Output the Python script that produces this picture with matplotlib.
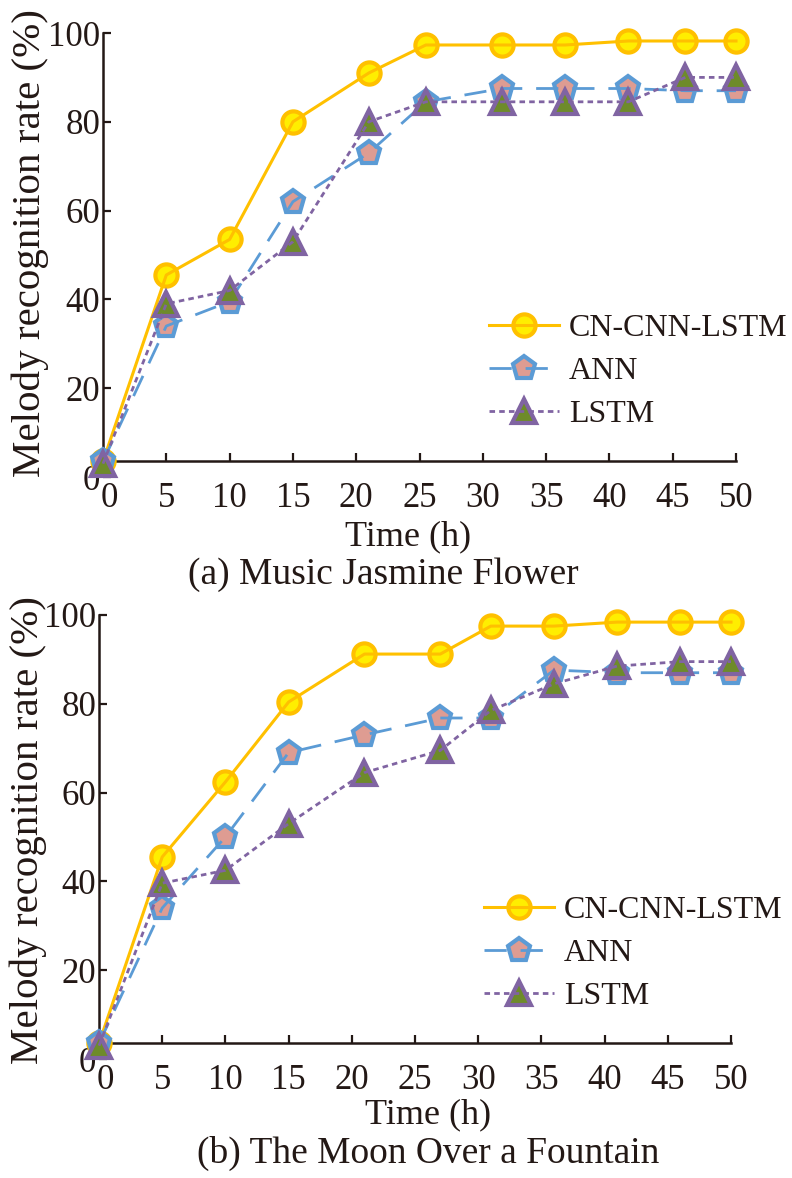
import matplotlib
matplotlib.use("Agg")
import matplotlib.pyplot as plt
import matplotlib.transforms as mtransforms
from matplotlib.legend_handler import HandlerTuple

plt.rcParams['font.family'] = ['Liberation Serif', 'DejaVu Serif']

# (a) Music Jasmine Flower
time_a = [0, 5, 10, 15, 21, 25.5, 31.5, 36.5, 41.5, 46, 50]
cn_a = [3.5, 45.5, 53.5, 80, 91, 97.3, 97.3, 97.3, 98.2, 98.2, 98.2]
ann_a = [3.5, 34, 39.5, 62, 73, 84.5, 87.5, 87.5, 87.5, 87, 87]
lstm_a = [3, 39, 42, 53, 80, 84.5, 84.5, 84.5, 84.5, 90, 90]

# (b) The Moon Over a Fountain
time_b = [0, 5, 10, 15, 21, 27, 31, 36, 41, 46, 50]
cn_b = [3.5, 45.5, 62.4, 80.4, 91.2, 91.2, 97.5, 97.5, 98.4, 98.4, 98.4]
ann_b = [3.5, 34, 50, 69, 73, 76.8, 76.8, 87.6, 87, 87, 87]
lstm_b = [3, 39.6, 42.5, 53, 64.5, 69.5, 78.5, 84.5, 88.5, 89.5, 89.5]

labels = ["CN-CNN-LSTM", "ANN", "LSTM"]
styles = [
    dict(color='#FFC000', ls='-', lw=2.2, marker='o', mfc='#FFEE00', mec='#FFC000', ms=16, mew=3),
    dict(color='#5B9BD5', ls=(0, (8, 5)), lw=2.0, marker='p', mfc='#DE9C92', mec='#5B9BD5', ms=17, mew=3),
    dict(color='#8064A2', ls=(0, (2, 1.5)), lw=2.0, marker='^', mfc='#6E8B2A', mec='#8064A2', ms=17, mew=3),
]

W, H = 792, 1178
fig = plt.figure(figsize=(W / 100, H / 100), dpi=100)


def draw_panel(ax, t, series, caption, xl_pos, cap_pos, yl_pos, leg_pos):
    handles = []
    for y, st in zip(series, styles):
        m, = ax.plot(t, y, ls='none', marker=st['marker'], ms=st['ms'], mfc=st['mfc'],
                     mec=st['mec'], mew=st['mew'], clip_on=False, zorder=3)
        l, = ax.plot(t, y, color=st['color'], ls=st['ls'], lw=st['lw'], clip_on=False, zorder=3)
        handles.append((m, l))

    ax.set_xlim(0, 50)
    ax.set_ylim(0, 100)
    ax.set_xticks(range(0, 51, 5))
    ax.set_yticks(range(0, 101, 20))
    for s in ['top', 'right']:
        ax.spines[s].set_visible(False)
    ax.spines['bottom'].set_position(('data', 3.5))
    ax.spines['left'].set_bounds(3.5, 100)
    for s in ['bottom', 'left']:
        ax.spines[s].set_linewidth(1.8)
        ax.spines[s].set_color('#231815')
    ax.tick_params(direction='in', length=6, width=1.6, labelsize=25, colors='#231815')
    ax.tick_params(axis='x', pad=15)
    ax.tick_params(axis='y', pad=2)
    # nudge the x "0" right so it clears the y "0"
    first = ax.xaxis.get_major_ticks()[0].label1
    first.set_transform(first.get_transform()
                        + mtransforms.ScaledTranslation(6 / 100, 0, fig.dpi_scale_trans))

    leg = ax.legend(handles, labels, handler_map={tuple: HandlerTuple(ndivide=1)},
                    loc='upper left', bbox_to_anchor=(leg_pos[0] / W, 1 - leg_pos[1] / H),
                    bbox_transform=fig.transFigure, frameon=False, fontsize=23,
                    handlelength=2.2, handletextpad=0.3, labelspacing=0.42,
                    borderpad=0, borderaxespad=0)
    for txt in leg.get_texts():
        txt.set_color('#231815')

    fig.text(xl_pos[0] / W, 1 - xl_pos[1] / H, "Time (h)", ha='center', va='center',
             fontsize=26, color='#231815')
    fig.text(cap_pos[0] / W, 1 - cap_pos[1] / H, caption, ha='center', va='center',
             fontsize=27, color='#231815')
    fig.text(yl_pos[0] / W, 1 - yl_pos[1] / H, "Melody recognition rate (%)", ha='center',
             va='center', rotation=90, fontsize=29.5, color='#231815')


ax1 = fig.add_axes([103 / W, 1 - 477 / H, (736 - 103) / W, (477 - 33) / H])
draw_panel(ax1, time_a, [cn_a, ann_a, lstm_a], "(a) Music Jasmine Flower",
           (408, 537), (383, 575), (30, 243), (489, 314))

ax2 = fig.add_axes([99 / W, 1 - 1059 / H, (731 - 99) / W, (1059 - 615) / H])
draw_panel(ax2, time_b, [cn_b, ann_b, lstm_b], "(b) The Moon Over a Fountain",
           (428, 1115), (428, 1153), (28, 830), (484, 896))

fig.savefig("out.png", dpi=100)
